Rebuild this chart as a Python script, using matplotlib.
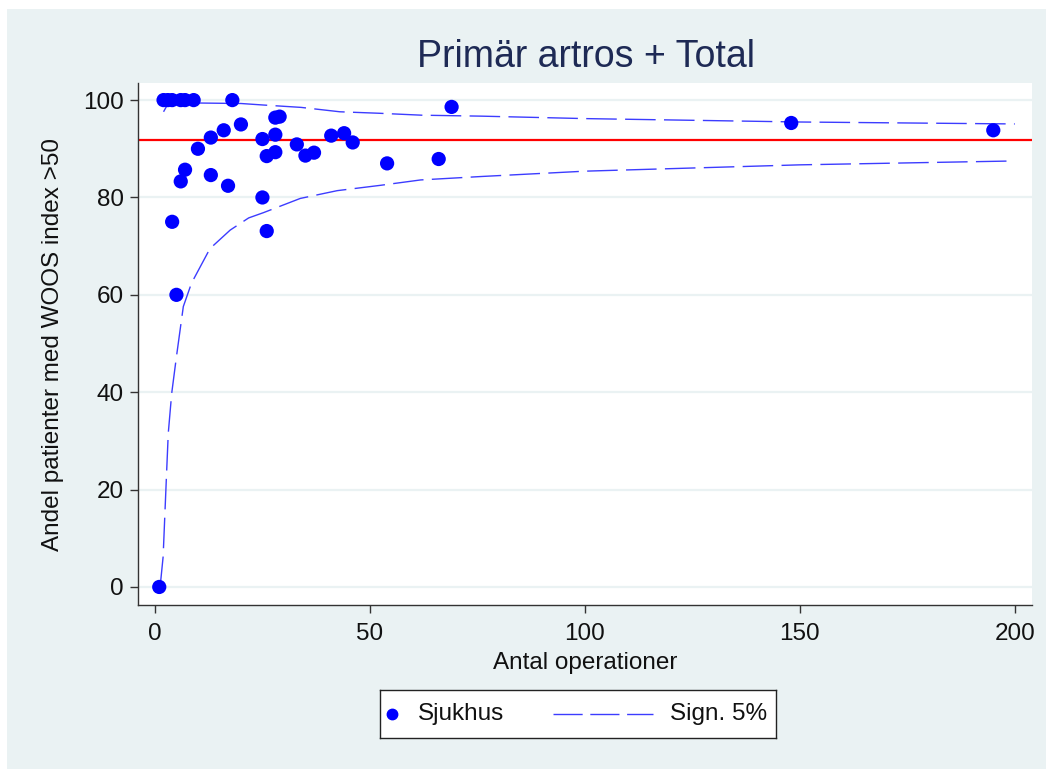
import matplotlib
matplotlib.use("Agg")
import matplotlib.pyplot as plt
from matplotlib.patches import Rectangle

plt.rcParams["font.family"] = ["Liberation Sans", "DejaVu Sans"]

# hospitals: number of operations and share with WOOS index > 50
hosp_n = [1, 2, 3, 4, 6, 7, 9, 18, 4, 5, 6, 7, 10, 13, 13, 16, 17, 20,
          25, 25, 26, 26, 28, 29, 28, 28, 33, 35, 37, 41, 44, 46, 54, 66,
          69, 148, 195]
hosp_pct = [0, 100, 100, 100, 100, 100, 100, 100, 75, 60, 83.3, 85.7, 90,
            92.3, 84.6, 93.8, 82.4, 95, 92, 80, 88.5, 73.1, 96.4, 96.6,
            92.9, 89.3, 90.9, 88.6, 89.2, 92.7, 93.2, 91.3, 87.0, 87.9,
            98.6, 95.3, 93.8]

national = 91.8

# 5% significance limits
upper_n = [2, 3, 5, 10, 20, 25, 34, 43, 52, 62, 76, 100, 150, 200]
upper_pct = [97.6, 99.2, 99.3, 99.4, 99.3, 99.0, 98.5, 97.6, 97.3, 96.9,
             96.7, 96.2, 95.5, 95.1]
lower_n = [1.2, 1.9, 2.7, 3.1, 3.9, 5.0, 6.6, 8.5, 12.8, 17.5, 21.8, 25.3,
           33.8, 42.4, 52.5, 61.8, 75.8, 100, 150, 200]
lower_pct = [0, 6.2, 23.3, 31.6, 39.8, 47.3, 57.6, 62.4, 69.5, 73.3, 75.8,
             76.9, 79.8, 81.4, 82.5, 83.6, 84.3, 85.4, 86.7, 87.5]

x_ticks = [0, 50, 100, 150, 200]
y_ticks = [0, 20, 40, 60, 80, 100]

BG = "#EAF2F3"
DOT = "#0000FF"
FUNNEL = "#3C3CFF"
TXT = "#111111"
DASH = (22, 6)

fig = plt.figure(figsize=(10.46, 7.69), dpi=100)
fig.patch.set_facecolor("white")
fig.patches.append(Rectangle((7 / 1046, 0), 1, 1 - 9 / 769,
                             transform=fig.transFigure, facecolor=BG,
                             edgecolor="none", zorder=-10))

ax = fig.add_axes([0.1319, 0.2133, 0.8547, 0.6787])
ax.set_facecolor("white")

for yv in y_ticks:
    ax.axhline(yv, color=BG, lw=1.6, zorder=0)

ax.axhline(national, color="#FF0000", lw=1.6, zorder=2)
ax.plot(upper_n, upper_pct, color=FUNNEL, lw=1.0, dashes=DASH, zorder=3)
ax.plot(lower_n, lower_pct, color=FUNNEL, lw=1.0, dashes=DASH, zorder=3)
ax.scatter(hosp_n, hosp_pct, s=105, color=DOT, edgecolors="none", zorder=4)

ax.set_xlim(-3.95, 204)
ax.set_ylim(-3.7, 103.5)
ax.set_xticks(x_ticks)
ax.set_yticks(y_ticks)
ax.tick_params(axis="both", labelsize=17.5, colors=TXT, length=6,
               width=1, direction="out")
ax.tick_params(axis="both", color="#333333")
ax.tick_params(axis="x", pad=7)
ax.tick_params(axis="y", pad=4)

for side in ["top", "right"]:
    ax.spines[side].set_visible(False)
for side in ["left", "bottom"]:
    ax.spines[side].set_color("#333333")
    ax.spines[side].set_linewidth(1.0)

ax.set_xlabel("Antal operationer", fontsize=17.5, color=TXT, labelpad=5)
ax.set_ylabel("Andel patienter med WOOS index >50", fontsize=17.5,
              color=TXT, labelpad=14)
fig.text(0.5605, 0.926, "Primär artros + Total", fontsize=27,
         color="#1E2A55", ha="center", va="center")

# legend box, drawn by hand so the marker sits at the left like Stata does
lax = fig.add_axes([380 / 1046, 1 - 738 / 769, 396 / 1046, 48 / 769])
lax.set_xlim(0, 396)
lax.set_ylim(0, 48)
lax.set_xticks([])
lax.set_yticks([])
lax.set_facecolor("white")
for s in lax.spines.values():
    s.set_color("#222222")
    s.set_linewidth(1.0)
lax.plot([12], [24], "o", color=DOT, markersize=7.5)
lax.text(38, 24, "Sjukhus", fontsize=17.5, color=TXT, va="center")
lax.plot([173, 273], [24, 24], color=FUNNEL, lw=1.0, dashes=(21, 5.5))
lax.text(290, 24, "Sign. 5%", fontsize=17.5, color=TXT, va="center")

fig.savefig("out.png", dpi=100)
